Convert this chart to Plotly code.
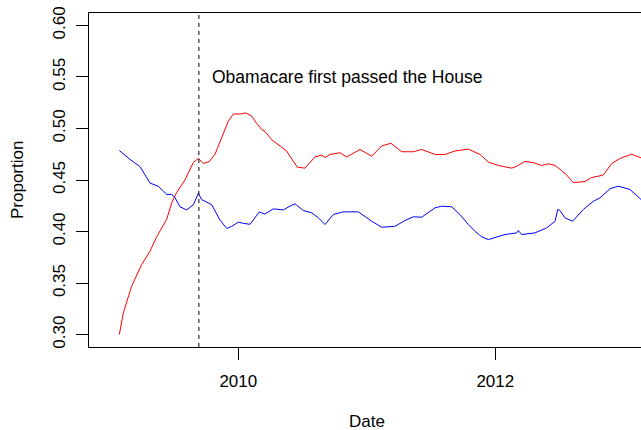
import plotly.graph_objects as go

# Smoothed proportions over time (decimal years)
red_dates = [2009.074, 2009.105, 2009.170, 2009.248, 2009.313, 2009.365, 2009.443, 2009.482,
             2009.521, 2009.585, 2009.650, 2009.689, 2009.728, 2009.774, 2009.819, 2009.883,
             2009.922, 2009.961, 2010.013, 2010.058, 2010.104, 2010.143, 2010.182, 2010.208,
             2010.260, 2010.325, 2010.377, 2010.402, 2010.459, 2010.519, 2010.597, 2010.649,
             2010.675, 2010.714, 2010.791, 2010.844, 2010.947, 2011.038, 2011.116, 2011.188,
             2011.272, 2011.362, 2011.427, 2011.531, 2011.609, 2011.686, 2011.790, 2011.881,
             2011.946, 2012.023, 2012.128, 2012.167, 2012.231, 2012.296, 2012.361, 2012.412,
             2012.465, 2012.517, 2012.556, 2012.607, 2012.698, 2012.750, 2012.840, 2012.906,
             2012.970, 2013.061, 2013.134]
red_values = [0.300, 0.321, 0.347, 0.368, 0.381, 0.395, 0.412, 0.428,
              0.438, 0.450, 0.467, 0.471, 0.466, 0.468, 0.475, 0.496,
              0.507, 0.514, 0.514, 0.515, 0.512, 0.505, 0.499, 0.497,
              0.489, 0.483, 0.478, 0.473, 0.4625, 0.4615, 0.4724, 0.4741,
              0.4718, 0.4748, 0.4764, 0.4724, 0.4796, 0.4731, 0.4830, 0.4856,
              0.4774, 0.4774, 0.4796, 0.4748, 0.4748, 0.4781, 0.4800, 0.4748,
              0.4674, 0.4641, 0.4615, 0.4634, 0.4680, 0.4668, 0.4641, 0.4657,
              0.4641, 0.4591, 0.4548, 0.4475, 0.4485, 0.4524, 0.4548, 0.4660,
              0.4708, 0.4750, 0.4715]

blue_dates = [2009.074, 2009.157, 2009.235, 2009.313, 2009.377, 2009.443, 2009.482, 2009.507,
              2009.546, 2009.598, 2009.650, 2009.689, 2009.715, 2009.760, 2009.793, 2009.858,
              2009.910, 2009.949, 2010.000, 2010.039, 2010.091, 2010.163, 2010.208, 2010.272,
              2010.350, 2010.402, 2010.441, 2010.506, 2010.571, 2010.623, 2010.675, 2010.739,
              2010.817, 2010.934, 2011.038, 2011.116, 2011.219, 2011.297, 2011.362, 2011.427,
              2011.466, 2011.531, 2011.583, 2011.661, 2011.725, 2011.790, 2011.842, 2011.894,
              2011.946, 2012.011, 2012.075, 2012.167, 2012.179, 2012.205, 2012.309, 2012.400,
              2012.465, 2012.486, 2012.504, 2012.542, 2012.602, 2012.685, 2012.763, 2012.815,
              2012.893, 2012.957, 2013.048, 2013.134]
blue_values = [0.4786, 0.470, 0.463, 0.447, 0.444, 0.436, 0.436, 0.433,
               0.424, 0.421, 0.426, 0.437, 0.431, 0.428, 0.426, 0.411,
               0.403, 0.405, 0.409, 0.408, 0.407, 0.419, 0.417, 0.422,
               0.421, 0.4246, 0.4269, 0.4204, 0.4182, 0.4133, 0.4068, 0.4165,
               0.4191, 0.4191, 0.4100, 0.4042, 0.4051, 0.4107, 0.4143, 0.4139,
               0.4175, 0.4230, 0.4246, 0.4240, 0.4165, 0.4068, 0.4003, 0.3949,
               0.3922, 0.3949, 0.3971, 0.3987, 0.4010, 0.3971, 0.3987, 0.4036,
               0.4100, 0.4214, 0.4204, 0.4133, 0.4100, 0.4214, 0.4294, 0.4327,
               0.4415, 0.4440, 0.4408, 0.4311]

event_date = 2009.693
event_label = "Obamacare first passed the House"
event_label_x = 2009.778
event_label_y = 0.55

x_tick_vals = [2010, 2012]
x_tick_text = ["2010", "2012"]
y_tick_vals = [0.30, 0.35, 0.40, 0.45, 0.50, 0.55, 0.60]

FONT = "Liberation Sans, Arial, Helvetica, sans-serif"
FS = 17

fig = go.Figure()
fig.add_trace(go.Scatter(x=red_dates, y=red_values, mode="lines",
                         line=dict(color="#FF0000", width=1), showlegend=False))
fig.add_trace(go.Scatter(x=blue_dates, y=blue_values, mode="lines",
                         line=dict(color="#0000FF", width=1), showlegend=False))

# vertical dashed marker for the House vote
fig.add_shape(type="line", xref="x", yref="paper", x0=event_date, x1=event_date,
              y0=0, y1=1, line=dict(color="black", width=1, dash="4px,4px"))

fig.add_annotation(x=event_label_x, y=event_label_y, xref="x", yref="y",
                   text=event_label, showarrow=False, xanchor="left", yanchor="middle",
                   font=dict(family=FONT, size=17.5, color="black"))

# axis titles (positions in paper fractions of the 552x334 plot area)
fig.add_annotation(x=(367 - 89) / 552, y=-(421 - 347) / 334, xref="paper", yref="paper",
                   text="Date", showarrow=False, xanchor="center", yanchor="middle",
                   font=dict(family=FONT, size=FS, color="black"))
fig.add_annotation(x=-(89 - 17) / 552, y=0.5, xref="paper", yref="paper", text="Proportion",
                   showarrow=False, textangle=-90, xanchor="center", yanchor="middle",
                   font=dict(family=FONT, size=FS, color="black"))

fig.update_layout(
    width=641, height=430,
    margin=dict(l=89, r=0, t=13, b=83),
    paper_bgcolor="white", plot_bgcolor="white",
    font=dict(family=FONT, size=FS, color="black"),
    xaxis=dict(range=[2008.838, 2013.134], tickvals=x_tick_vals, ticktext=x_tick_text,
               showgrid=False, zeroline=False, showline=True, mirror=True,
               linecolor="black", linewidth=1, ticks="outside", ticklen=12,
               tickcolor="black", tickwidth=1, ticklabelstandoff=7),
    yaxis=dict(range=[0.288, 0.612], tickvals=y_tick_vals, tickformat=".2f",
               showgrid=False, zeroline=False, showline=True, mirror=False,
               linecolor="black", linewidth=1, ticks="outside", ticklen=12,
               tickcolor="black", tickwidth=1, tickangle=-90, ticklabelstandoff=4),
)

fig.write_html("out.html")
